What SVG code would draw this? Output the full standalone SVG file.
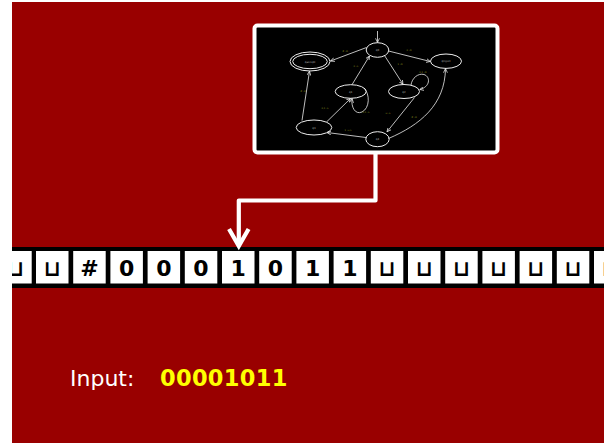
<svg xmlns="http://www.w3.org/2000/svg" width="610" height="443" viewBox="0 0 610 443">
<defs>
<style>
.cell{fill:#fff}
.sym{font-family:"DejaVu Sans",sans-serif;font-weight:bold;font-size:22px;fill:#000;text-anchor:middle}
.edge{fill:none;stroke:#eee;stroke-width:0.8}
.st{fill:none;stroke:#eee;stroke-width:1}
.nl{font-family:"DejaVu Sans",sans-serif;font-size:2.6px;fill:#bbb;text-anchor:middle}
.el{font-family:"DejaVu Sans",sans-serif;font-size:2.4px;fill:#8c8c1e;text-anchor:middle}
</style>
<marker id="ah" viewBox="0 0 8 8" refX="7.5" refY="4" markerWidth="4.5" markerHeight="4.5" markerUnits="userSpaceOnUse" orient="auto">
<path d="M0,0.5 L7.5,4 L0,7.5" fill="none" stroke="#eee" stroke-width="1.3"/>
</marker>
<clipPath id="bgclip"><rect x="12" y="2" width="592" height="441"/></clipPath>
</defs>
<rect x="12" y="2" width="592" height="441" fill="#990000"/>

<g id="tape" clip-path="url(#bgclip)">
<rect x="0" y="247" width="610" height="41" fill="#000"/>
<g id="cells">
<rect class="cell" x="-0.8" y="251" width="32.5" height="32.5"/><text class="sym" x="15.4" y="276">⊔</text>
<rect class="cell" x="36" y="251" width="32.5" height="32.5"/><text class="sym" x="52.2" y="276">⊔</text>
<rect class="cell" x="73.2" y="251" width="32.5" height="32.5"/><text class="sym" x="89.4" y="276">#</text>
<rect class="cell" x="110.4" y="251" width="32.5" height="32.5"/><text class="sym" x="126.6" y="276">0</text>
<rect class="cell" x="147.6" y="251" width="32.5" height="32.5"/><text class="sym" x="163.8" y="276">0</text>
<rect class="cell" x="184.8" y="251" width="32.5" height="32.5"/><text class="sym" x="201" y="276">0</text>
<rect class="cell" x="222" y="251" width="32.5" height="32.5"/><text class="sym" x="238.2" y="276">1</text>
<rect class="cell" x="259.2" y="251" width="32.5" height="32.5"/><text class="sym" x="275.4" y="276">0</text>
<rect class="cell" x="296.4" y="251" width="32.5" height="32.5"/><text class="sym" x="312.6" y="276">1</text>
<rect class="cell" x="333.6" y="251" width="32.5" height="32.5"/><text class="sym" x="349.8" y="276">1</text>
<rect class="cell" x="370.8" y="251" width="32.5" height="32.5"/><text class="sym" x="387" y="276">⊔</text>
<rect class="cell" x="408" y="251" width="32.5" height="32.5"/><text class="sym" x="424.2" y="276">⊔</text>
<rect class="cell" x="445.2" y="251" width="32.5" height="32.5"/><text class="sym" x="461.4" y="276">⊔</text>
<rect class="cell" x="482.4" y="251" width="32.5" height="32.5"/><text class="sym" x="498.6" y="276">⊔</text>
<rect class="cell" x="519.6" y="251" width="32.5" height="32.5"/><text class="sym" x="535.8" y="276">⊔</text>
<rect class="cell" x="556.8" y="251" width="32.5" height="32.5"/><text class="sym" x="573" y="276">⊔</text>
<rect class="cell" x="594" y="251" width="32.5" height="32.5"/><text class="sym" x="610.2" y="276">⊔</text>
</g>
</g>

<g id="input-label">
<text x="70" y="386" font-family="DejaVu Sans, sans-serif" font-size="22" fill="#fff">Input:</text>
<text x="160" y="386" font-family="DejaVu Sans, sans-serif" font-size="22.5" font-weight="bold" letter-spacing="0.3" fill="#ffff00">00001011</text>
</g>

<g id="machine">
<rect x="254.5" y="25.5" width="243" height="127" rx="3" fill="#000" stroke="#fff" stroke-width="4"/>
<g id="state-q0"><ellipse class="st" cx="377.5" cy="50" rx="11.3" ry="7.3"/><text class="nl" x="377.5" y="51">q0</text></g>
<g id="state-accept"><ellipse class="st" cx="310" cy="61.5" rx="20" ry="9.5"/><ellipse class="st" cx="310" cy="61.5" rx="17.3" ry="7.2"/><text class="nl" x="310" y="62.5">qaccept</text></g>
<g id="state-reject"><ellipse class="st" cx="446" cy="61.2" rx="15.5" ry="7.2"/><text class="nl" x="446" y="62.2">qreject</text></g>
<g id="state-a"><ellipse class="st" cx="350.7" cy="91.5" rx="15.5" ry="6.8"/><text class="nl" x="350.7" y="92.5">q1</text></g>
<g id="state-b"><ellipse class="st" cx="404" cy="91.5" rx="15.5" ry="7"/><text class="nl" x="404" y="92.5">q2</text></g>
<g id="state-c"><ellipse class="st" cx="314" cy="127.5" rx="17.8" ry="7.5"/><text class="nl" x="314" y="128.5">q3</text></g>
<g id="state-d"><ellipse class="st" cx="377.5" cy="139.2" rx="11.7" ry="7.5"/><text class="nl" x="377.5" y="140.2">q4</text></g>
</g>

<g id="connectors">
<path class="edge" d="M377.5,31 L377.5,42.5" marker-end="url(#ah)"/>
<path class="edge" d="M366.5,47.5 L330.5,61" marker-end="url(#ah)"/>
<path class="edge" d="M388.5,51 L430.3,61.5" marker-end="url(#ah)"/>
<path class="edge" d="M384.5,55.5 L403,84.3" marker-end="url(#ah)"/>
<path class="edge" d="M352,84.7 L369.5,56" marker-end="url(#ah)"/>
<path class="edge" d="M364,88 C370,94 370,108 362,112 C355,115 351,107 352,98.5" marker-end="url(#ah)"/>
<path class="edge" d="M411,85 C412,78 418,73 424,74.5 C431,77 430,87 419.8,89.5" marker-end="url(#ah)"/>
<path class="edge" d="M414.5,97.5 L387,131.8" marker-end="url(#ah)"/>
<path class="edge" d="M366,137.5 L327,132.5" marker-end="url(#ah)"/>
<path class="edge" d="M326.5,122 L350.5,98.5" marker-end="url(#ah)"/>
<path class="edge" d="M302,120.5 L309.5,71.2" marker-end="url(#ah)"/>
<path class="edge" d="M388.5,138.5 C420,125 445,105 445.5,68.5" marker-end="url(#ah)"/>
<text class="el" x="345" y="52">#→R</text>
<text class="el" x="409" y="50.5">0→R</text>
<text class="el" x="400" y="65">1→R</text>
<text class="el" x="356" y="67">0→L</text>
<text class="el" x="423" y="73">0,1→R</text>
<text class="el" x="325" y="108.5">0,1→L</text>
<text class="el" x="366" y="113">0,1→L</text>
<text class="el" x="388" y="113.5">⊔→L</text>
<text class="el" x="414" y="118">#→R</text>
<text class="el" x="348" y="131">1→x,L</text>
<text class="el" x="303" y="92">#→R</text>
<path d="M375.5,152 L375.5,200.5 L238.8,200.5 L238.8,245" fill="none" stroke="#fff" stroke-width="4.2" stroke-linejoin="round"/>
<path d="M229,229 L238.8,246 L248.6,229" fill="none" stroke="#fff" stroke-width="4.2" stroke-linejoin="miter"/>
</g>
</svg>
